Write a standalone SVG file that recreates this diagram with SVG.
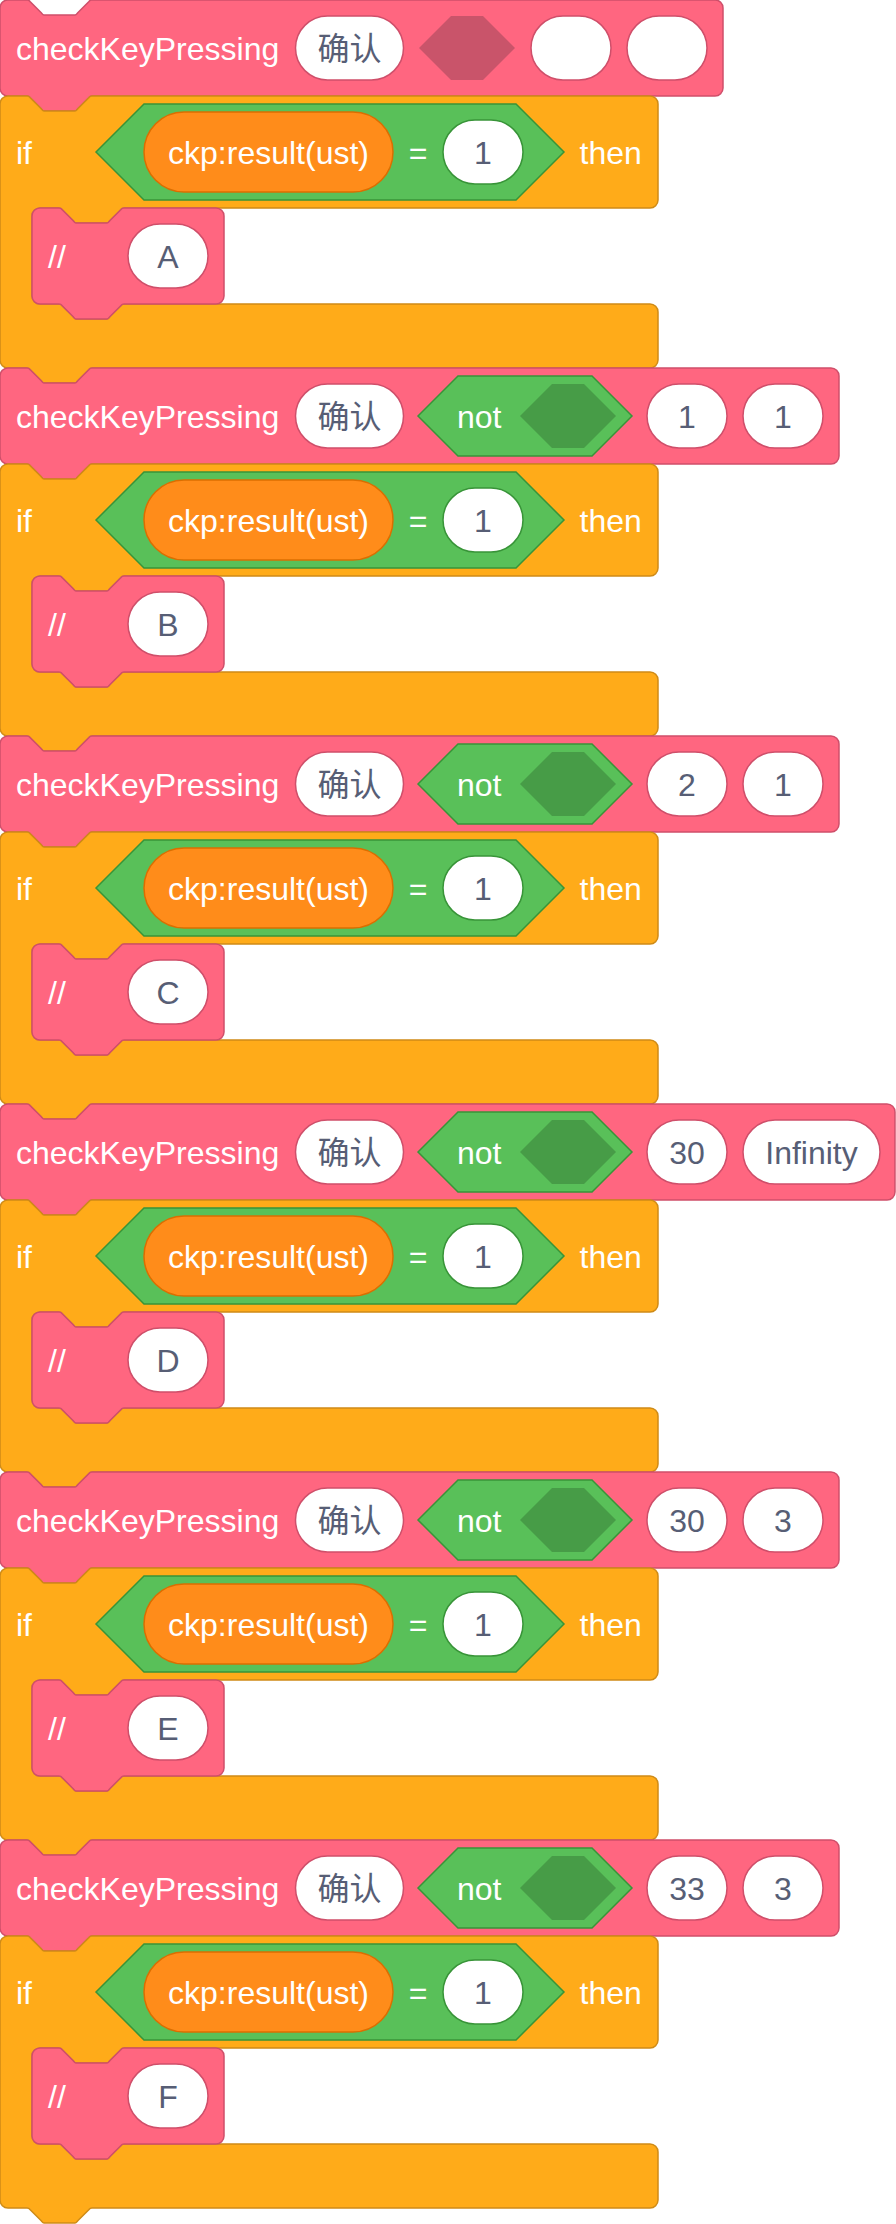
<svg xmlns="http://www.w3.org/2000/svg" xmlns:xlink="http://www.w3.org/1999/xlink" width="896" height="2224" viewBox="0 0 896 2224">
<style>
.pink{fill:#FF6680;stroke:#CF4F6A;stroke-width:1.5}
.ctrl{fill:#FFAB19;stroke:#CF8B17;stroke-width:1.5}
.op{fill:#59C059;stroke:#389438;stroke-width:1.5}
.rep{fill:#FF8C1A;stroke:#DB6E00;stroke-width:1.5}
.pill{fill:#FFFFFF;stroke:#CF4F6A;stroke-width:1.5}
.pillg{fill:#FFFFFF;stroke:#389438;stroke-width:1.5}
.slotp{fill:#C9546A}
.slotg{fill:#479C47}
text{font-family:"Liberation Sans",Arial,"Noto Sans CJK SC",sans-serif;font-size:32px}
.w{fill:#FFFFFF}
.v{fill:#575E75;text-anchor:middle}
.c{fill:#FFFFFF;text-anchor:middle}
</style>
<defs>
<path id="hdr723" d="M0,8 A8,8 0 0 1 8,0 H27 c1.5,0 2.5,0.75 3,1.5 l11,11 c0.75,0.75 1.75,2.5 3,2.5 h31 c1.25,0 2.25,-1.75 3,-2.5 l11,-11 c0.5,-0.75 1.5,-1.5 3,-1.5 H715 A8,8 0 0 1 723,8 V88 A8,8 0 0 1 715,96 H92 c-1.5,0 -2.5,0.75 -3,1.5 l-11,11 c-0.75,0.75 -1.75,2.5 -3,2.5 h-31 c-1.25,0 -2.25,-1.75 -3,-2.5 l-11,-11 c-0.5,-0.75 -1.5,-1.5 -3,-1.5 H8 A8,8 0 0 1 0,88 Z"/>
<path id="hdr839" d="M0,8 A8,8 0 0 1 8,0 H27 c1.5,0 2.5,0.75 3,1.5 l11,11 c0.75,0.75 1.75,2.5 3,2.5 h31 c1.25,0 2.25,-1.75 3,-2.5 l11,-11 c0.5,-0.75 1.5,-1.5 3,-1.5 H831 A8,8 0 0 1 839,8 V88 A8,8 0 0 1 831,96 H92 c-1.5,0 -2.5,0.75 -3,1.5 l-11,11 c-0.75,0.75 -1.75,2.5 -3,2.5 h-31 c-1.25,0 -2.25,-1.75 -3,-2.5 l-11,-11 c-0.5,-0.75 -1.5,-1.5 -3,-1.5 H8 A8,8 0 0 1 0,88 Z"/>
<path id="hdr895" d="M0,8 A8,8 0 0 1 8,0 H27 c1.5,0 2.5,0.75 3,1.5 l11,11 c0.75,0.75 1.75,2.5 3,2.5 h31 c1.25,0 2.25,-1.75 3,-2.5 l11,-11 c0.5,-0.75 1.5,-1.5 3,-1.5 H887 A8,8 0 0 1 895,8 V88 A8,8 0 0 1 887,96 H92 c-1.5,0 -2.5,0.75 -3,1.5 l-11,11 c-0.75,0.75 -1.75,2.5 -3,2.5 h-31 c-1.25,0 -2.25,-1.75 -3,-2.5 l-11,-11 c-0.5,-0.75 -1.5,-1.5 -3,-1.5 H8 A8,8 0 0 1 0,88 Z"/>
<path id="hdr192" d="M0,8 A8,8 0 0 1 8,0 H27 c1.5,0 2.5,0.75 3,1.5 l11,11 c0.75,0.75 1.75,2.5 3,2.5 h31 c1.25,0 2.25,-1.75 3,-2.5 l11,-11 c0.5,-0.75 1.5,-1.5 3,-1.5 H184 A8,8 0 0 1 192,8 V88 A8,8 0 0 1 184,96 H92 c-1.5,0 -2.5,0.75 -3,1.5 l-11,11 c-0.75,0.75 -1.75,2.5 -3,2.5 h-31 c-1.25,0 -2.25,-1.75 -3,-2.5 l-11,-11 c-0.5,-0.75 -1.5,-1.5 -3,-1.5 H8 A8,8 0 0 1 0,88 Z"/>
<path id="cblk" d="M0,104 A8,8 0 0 1 8,96 H27 c1.5,0 2.5,0.75 3,1.5 l11,11 c0.75,0.75 1.75,2.5 3,2.5 h31 c1.25,0 2.25,-1.75 3,-2.5 l11,-11 c0.5,-0.75 1.5,-1.5 3,-1.5 H650 A8,8 0 0 1 658,104 V200 A8,8 0 0 1 650,208 H124 c-1.5,0 -2.5,0.75 -3,1.5 l-11,11 c-0.75,0.75 -1.75,2.5 -3,2.5 h-31 c-1.25,0 -2.25,-1.75 -3,-2.5 l-11,-11 c-0.5,-0.75 -1.5,-1.5 -3,-1.5 H40 A8,8 0 0 0 32,216 V296 A8,8 0 0 0 40,304 H59 c1.5,0 2.5,0.75 3,1.5 l11,11 c0.75,0.75 1.75,2.5 3,2.5 h31 c1.25,0 2.25,-1.75 3,-2.5 l11,-11 c0.5,-0.75 1.5,-1.5 3,-1.5 H650 A8,8 0 0 1 658,312 V360 A8,8 0 0 1 650,368 H92 c-1.5,0 -2.5,0.75 -3,1.5 l-11,11 c-0.75,0.75 -1.75,2.5 -3,2.5 h-31 c-1.25,0 -2.25,-1.75 -3,-2.5 l-11,-11 c-0.5,-0.75 -1.5,-1.5 -3,-1.5 H8 A8,8 0 0 1 0,360 Z"/>
<g id="ifbody">
<use href="#cblk" class="ctrl"/>
<text class="w" x="16" y="163.5">if</text>
<polygon class="op" points="96,152 144,104 516,104 564,152 516,200 144,200"/>
<rect class="rep" x="144" y="112" width="249" height="80" rx="40"/>
<text class="c" x="268.5" y="163.5">ckp:result(ust)</text>
<text class="c" x="418" y="163.5">=</text>
<rect class="pillg" x="443" y="120" width="80" height="64" rx="32"/>
<text class="v" x="483" y="163.5">1</text>
<text class="w" x="579.5" y="163.5">then</text>
</g>
<g id="notbool">
<polygon class="op" points="418,48 458,8 592,8 632,48 592,88 458,88"/>
<text class="w" x="457" y="59.5">not</text>
<polygon class="slotg" points="520,48 552,16 584,16 616,48 584,80 552,80"/>
</g>
<g id="head">
<text class="w" x="16" y="59.5">checkKeyPressing</text>
<rect class="pill" x="295.5" y="16" width="108" height="64" rx="32"/>
<text class="v" x="349.5" y="60">确认</text>
</g>
</defs>

<g id="connectors"/>

<g id="group1">
<g id="check1"><use href="#hdr723" class="pink"/><use href="#head"/>
<polygon class="slotp" points="419,48 451,16 483,16 515,48 483,80 451,80"/>
<rect class="pill" x="531" y="16" width="80" height="64" rx="32"/>
<rect class="pill" x="627" y="16" width="80" height="64" rx="32"/></g>
<g id="if1"><use href="#ifbody"/></g>
<g id="comment1" transform="translate(32,208)"><use href="#hdr192" class="pink"/><text class="w" x="16" y="60">//</text><rect class="pill" x="96" y="16" width="80" height="64" rx="32"/><text class="v" x="136" y="60">A</text></g>
</g>

<g id="group2" transform="translate(0,368)">
<g id="check2"><use href="#hdr839" class="pink"/><use href="#head"/><use href="#notbool"/>
<rect class="pill" x="647" y="16" width="80" height="64" rx="32"/><text class="v" x="687" y="59.5">1</text>
<rect class="pill" x="743" y="16" width="80" height="64" rx="32"/><text class="v" x="783" y="59.5">1</text></g>
<g id="if2"><use href="#ifbody"/></g>
<g id="comment2" transform="translate(32,208)"><use href="#hdr192" class="pink"/><text class="w" x="16" y="60">//</text><rect class="pill" x="96" y="16" width="80" height="64" rx="32"/><text class="v" x="136" y="60">B</text></g>
</g>

<g id="group3" transform="translate(0,736)">
<g id="check3"><use href="#hdr839" class="pink"/><use href="#head"/><use href="#notbool"/>
<rect class="pill" x="647" y="16" width="80" height="64" rx="32"/><text class="v" x="687" y="59.5">2</text>
<rect class="pill" x="743" y="16" width="80" height="64" rx="32"/><text class="v" x="783" y="59.5">1</text></g>
<g id="if3"><use href="#ifbody"/></g>
<g id="comment3" transform="translate(32,208)"><use href="#hdr192" class="pink"/><text class="w" x="16" y="60">//</text><rect class="pill" x="96" y="16" width="80" height="64" rx="32"/><text class="v" x="136" y="60">C</text></g>
</g>

<g id="group4" transform="translate(0,1104)">
<g id="check4"><use href="#hdr895" class="pink"/><use href="#head"/><use href="#notbool"/>
<rect class="pill" x="647" y="16" width="80" height="64" rx="32"/><text class="v" x="687" y="59.5">30</text>
<rect class="pill" x="743" y="16" width="137" height="64" rx="32"/><text class="v" x="811.5" y="59.5">Infinity</text></g>
<g id="if4"><use href="#ifbody"/></g>
<g id="comment4" transform="translate(32,208)"><use href="#hdr192" class="pink"/><text class="w" x="16" y="60">//</text><rect class="pill" x="96" y="16" width="80" height="64" rx="32"/><text class="v" x="136" y="60">D</text></g>
</g>

<g id="group5" transform="translate(0,1472)">
<g id="check5"><use href="#hdr839" class="pink"/><use href="#head"/><use href="#notbool"/>
<rect class="pill" x="647" y="16" width="80" height="64" rx="32"/><text class="v" x="687" y="59.5">30</text>
<rect class="pill" x="743" y="16" width="80" height="64" rx="32"/><text class="v" x="783" y="59.5">3</text></g>
<g id="if5"><use href="#ifbody"/></g>
<g id="comment5" transform="translate(32,208)"><use href="#hdr192" class="pink"/><text class="w" x="16" y="60">//</text><rect class="pill" x="96" y="16" width="80" height="64" rx="32"/><text class="v" x="136" y="60">E</text></g>
</g>

<g id="group6" transform="translate(0,1840)">
<g id="check6"><use href="#hdr839" class="pink"/><use href="#head"/><use href="#notbool"/>
<rect class="pill" x="647" y="16" width="80" height="64" rx="32"/><text class="v" x="687" y="59.5">33</text>
<rect class="pill" x="743" y="16" width="80" height="64" rx="32"/><text class="v" x="783" y="59.5">3</text></g>
<g id="if6"><use href="#ifbody"/></g>
<g id="comment6" transform="translate(32,208)"><use href="#hdr192" class="pink"/><text class="w" x="16" y="60">//</text><rect class="pill" x="96" y="16" width="80" height="64" rx="32"/><text class="v" x="136" y="60">F</text></g>
</g>
</svg>
